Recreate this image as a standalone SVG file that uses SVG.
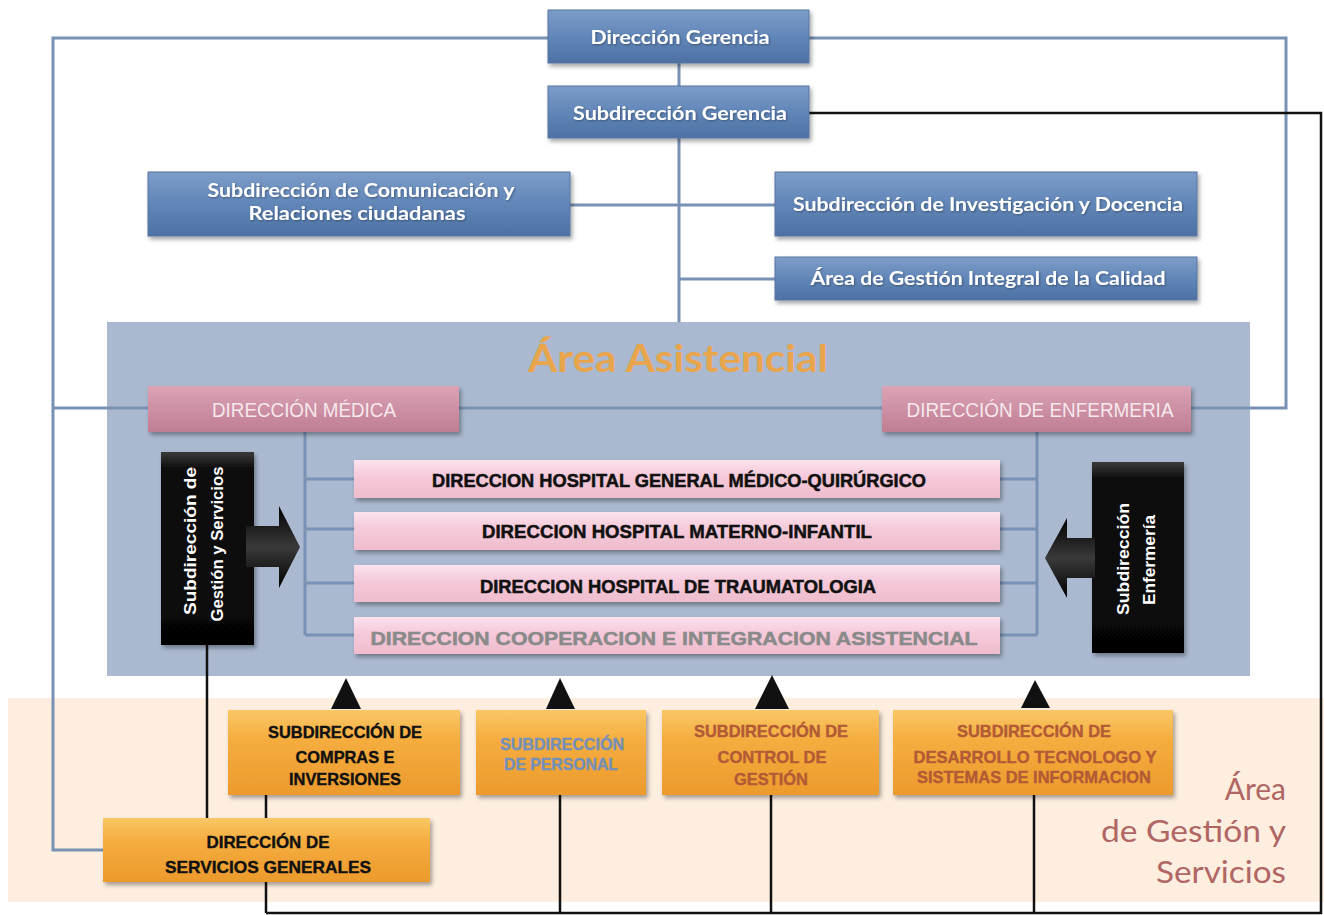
<svg xmlns="http://www.w3.org/2000/svg" width="1324" height="915" viewBox="0 0 1324 915">
<defs>
<linearGradient id="gBlue" x1="0" y1="0" x2="0" y2="1"><stop offset="0" stop-color="#7d9dc9"/><stop offset="0.5" stop-color="#6186b8"/><stop offset="1" stop-color="#4d71a3"/></linearGradient>
<linearGradient id="gMauve" x1="0" y1="0" x2="0" y2="1"><stop offset="0" stop-color="#dba3b5"/><stop offset="1" stop-color="#bf7d93"/></linearGradient>
<linearGradient id="gPink" x1="0" y1="0" x2="0" y2="1"><stop offset="0" stop-color="#fbe2ec"/><stop offset="0.4" stop-color="#f6cbdb"/><stop offset="1" stop-color="#eebccd"/></linearGradient>
<linearGradient id="gBlack" x1="0" y1="0" x2="0" y2="1"><stop offset="0" stop-color="#3a3a3a"/><stop offset="0.08" stop-color="#111"/><stop offset="1" stop-color="#050505"/></linearGradient>
<linearGradient id="gArrow" x1="0" y1="0" x2="0" y2="1"><stop offset="0" stop-color="#000"/><stop offset="0.5" stop-color="#3a3a3a"/><stop offset="1" stop-color="#000"/></linearGradient>
<linearGradient id="gOrange" x1="0" y1="0" x2="0" y2="1"><stop offset="0" stop-color="#f9c766"/><stop offset="0.35" stop-color="#f5ad3f"/><stop offset="1" stop-color="#ec9a2c"/></linearGradient>
<filter id="sh" x="-10%" y="-20%" width="120%" height="150%"><feDropShadow dx="2" dy="3" stdDeviation="2" flood-color="#000" flood-opacity="0.35"/></filter>
<filter id="tsh" x="-5%" y="-30%" width="110%" height="160%"><feDropShadow dx="1" dy="1" stdDeviation="0.8" flood-color="#000" flood-opacity="0.35"/></filter>
</defs>
<style>
.ln{stroke:#7891b4;stroke-width:3;fill:none}
.bk{stroke:#111;stroke-width:2.5;fill:none}
.tri{fill:#111}
.blue{fill:url(#gBlue);stroke:#5674a0;stroke-width:1}
.mauve{fill:url(#gMauve)}
.pink{fill:url(#gPink)}
.blk{fill:url(#gBlack)}
.org{fill:url(#gOrange)}
.tb{font-family:Lato,"Open Sans",sans-serif;font-weight:bold;font-size:18px;fill:#fff;text-anchor:middle}
.tm{font-family:"Liberation Sans Narrow","Liberation Sans",sans-serif;font-size:20px;fill:#f6e8ec;text-anchor:middle}
.th{font-family:"Liberation Sans Narrow","Liberation Sans",sans-serif;font-weight:bold;font-size:18px;fill:#111;stroke:#111;stroke-width:0.5;text-anchor:middle}
.to{font-family:"Liberation Sans Narrow","Liberation Sans",sans-serif;font-weight:bold;font-size:17px;stroke-width:0.4;text-anchor:middle}
.tv{font-family:"Liberation Sans",Arial,sans-serif;font-weight:bold;font-size:16px;fill:#fff;text-anchor:middle}
</style>
<rect width="1324" height="915" fill="#fff"/>
<g id="area-asistencial">
<rect x="107" y="322" width="1143" height="354" fill="#aab9d0"/>
<text x="678" y="372" font-family="Lato,'Open Sans',sans-serif" font-weight="bold" font-size="38" fill="#e9a54c" text-anchor="middle" textLength="300" lengthAdjust="spacingAndGlyphs">Área Asistencial</text>
</g>
<g id="area-gestion">
<rect x="8" y="698" width="1316" height="204" fill="#fdeee0"/>
<g font-family="Lato,'Open Sans',sans-serif" font-size="30" fill="#b06663" text-anchor="end">
<text x="1286" y="800">Área</text>
<text x="1286" y="842" textLength="185" lengthAdjust="spacingAndGlyphs">de Gestión y</text>
<text x="1286" y="883" textLength="130" lengthAdjust="spacingAndGlyphs">Servicios</text>
</g>
</g>
<g id="connectors">
<path class="ln" d="M548,38 H53 V850 H103"/>
<path class="ln" d="M53,408 H148"/>
<path class="ln" d="M809,38 H1286 V408 H1191"/>
<path class="ln" d="M459,408 H882"/>
<path class="ln" d="M679,63 V86"/>
<path class="ln" d="M679,138 V322"/>
<path class="ln" d="M570,205 H775"/>
<path class="ln" d="M679,279 H775"/>
<path class="ln" d="M305,432 V635 M305,479 H354 M305,529 H354 M305,583 H354 M305,635 H354"/>
<path class="ln" d="M1037,432 V635 M1000,479 H1037 M1000,529 H1037 M1000,583 H1037 M1000,635 H1037"/>
<path class="bk" d="M809,113 H1321 V913 H266"/>
<path class="bk" d="M266,913 V882 M266,818 V795"/>
<path class="bk" d="M560,913 V795"/>
<path class="bk" d="M771,913 V795"/>
<path class="bk" d="M1034,913 V795"/>
<path class="bk" d="M207,645 V818"/>
<polygon class="tri" points="331,709 361,709 346,678"/>
<polygon class="tri" points="546,709 575,709 560,678"/>
<polygon class="tri" points="755,709 789,709 772,675"/>
<polygon class="tri" points="1021,708 1050,708 1035,680"/>
</g>
<g id="direccion-gerencia">
<rect class="blue" x="548" y="10" width="261" height="53" filter="url(#sh)"/>
<text class="tb" x="680" y="44" textLength="179" lengthAdjust="spacingAndGlyphs" filter="url(#tsh)">Dirección Gerencia</text>
</g>
<g id="subdireccion-gerencia">
<rect class="blue" x="548" y="86" width="261" height="52" filter="url(#sh)"/>
<text class="tb" x="680" y="120" textLength="214" lengthAdjust="spacingAndGlyphs" filter="url(#tsh)">Subdirección Gerencia</text>
</g>
<g id="subdir-comunicacion">
<rect class="blue" x="148" y="172" width="422" height="64" filter="url(#sh)"/>
<text class="tb" x="361" y="197" textLength="307" lengthAdjust="spacingAndGlyphs" filter="url(#tsh)">Subdirección de Comunicación y</text>
<text class="tb" x="357" y="220" textLength="217" lengthAdjust="spacingAndGlyphs" filter="url(#tsh)">Relaciones ciudadanas</text>
</g>
<g id="subdir-investigacion">
<rect class="blue" x="775" y="172" width="422" height="64" filter="url(#sh)"/>
<text class="tb" x="988" y="211" textLength="390" lengthAdjust="spacingAndGlyphs" filter="url(#tsh)">Subdirección de Investigación y Docencia</text>
</g>
<g id="area-calidad">
<rect class="blue" x="775" y="257" width="422" height="43" filter="url(#sh)"/>
<text class="tb" x="988" y="285" textLength="355" lengthAdjust="spacingAndGlyphs" filter="url(#tsh)">Área de Gestión Integral de la Calidad</text>
</g>
<g id="direccion-medica">
<rect class="mauve" x="148" y="386" width="311" height="46" filter="url(#sh)"/>
<text class="tm" x="304" y="417" textLength="184" lengthAdjust="spacingAndGlyphs">DIRECCIÓN MÉDICA</text>
</g>
<g id="direccion-enfermeria">
<rect class="mauve" x="882" y="386" width="309" height="46" filter="url(#sh)"/>
<text class="tm" x="1040" y="417" textLength="267" lengthAdjust="spacingAndGlyphs">DIRECCIÓN DE ENFERMERIA</text>
</g>
<g id="hospital-general">
<rect class="pink" x="354" y="460" width="646" height="38" filter="url(#sh)"/>
<text class="th" x="679" y="487" textLength="494" lengthAdjust="spacingAndGlyphs">DIRECCION HOSPITAL GENERAL MÉDICO-QUIRÚRGICO</text>
</g>
<g id="hospital-materno">
<rect class="pink" x="354" y="512" width="646" height="38" filter="url(#sh)"/>
<text class="th" x="677" y="538" textLength="390" lengthAdjust="spacingAndGlyphs">DIRECCION  HOSPITAL MATERNO-INFANTIL</text>
</g>
<g id="hospital-trauma">
<rect class="pink" x="354" y="565" width="646" height="37" filter="url(#sh)"/>
<text class="th" x="678" y="593" textLength="396" lengthAdjust="spacingAndGlyphs">DIRECCION HOSPITAL DE TRAUMATOLOGIA</text>
</g>
<g id="cooperacion">
<rect class="pink" x="354" y="617" width="646" height="37" filter="url(#sh)"/>
<text class="th" x="674" y="645" style="fill:#8a8a8a;stroke:#8a8a8a" textLength="607" lengthAdjust="spacingAndGlyphs">DIRECCION COOPERACION  E INTEGRACION ASISTENCIAL</text>
</g>
<g id="subdir-gestion-servicios">
<rect class="blk" x="161" y="452" width="93" height="193" filter="url(#sh)"/>
<text class="tv" transform="translate(196,541) rotate(-90)" textLength="148" lengthAdjust="spacingAndGlyphs">Subdirección  de</text>
<text class="tv" transform="translate(223,544) rotate(-90)" textLength="155" lengthAdjust="spacingAndGlyphs">Gestión y Servicios</text>
<polygon fill="url(#gArrow)" points="246,526 279,526 279,506 300,547 279,588 279,567 246,567"/>
</g>
<g id="subdir-enfermeria">
<rect class="blk" x="1092" y="462" width="92" height="191" filter="url(#sh)"/>
<text class="tv" transform="translate(1129,559) rotate(-90)" textLength="112" lengthAdjust="spacingAndGlyphs">Subdirección</text>
<text class="tv" transform="translate(1155,560) rotate(-90)" textLength="90" lengthAdjust="spacingAndGlyphs">Enfermería</text>
<polygon fill="url(#gArrow)" points="1095,538 1067,538 1067,518 1045,558 1067,598 1067,578 1095,578"/>
</g>
<g id="subdir-compras">
<rect class="org" x="228" y="710" width="232" height="85" filter="url(#sh)"/>
<text class="to" fill="#111" stroke="#111" x="345" y="738" textLength="154" lengthAdjust="spacingAndGlyphs">SUBDIRECCIÓN DE</text>
<text class="to" fill="#111" stroke="#111" x="345" y="763" textLength="99" lengthAdjust="spacingAndGlyphs">COMPRAS E</text>
<text class="to" fill="#111" stroke="#111" x="345" y="785" textLength="112" lengthAdjust="spacingAndGlyphs">INVERSIONES</text>
</g>
<g id="subdir-personal">
<rect class="org" x="476" y="710" width="170" height="85" filter="url(#sh)"/>
<text class="to" fill="#7590b8" stroke="#7590b8" x="562" y="750" textLength="124" lengthAdjust="spacingAndGlyphs">SUBDIRECCIÓN</text>
<text class="to" fill="#7590b8" stroke="#7590b8" x="561" y="770" textLength="114" lengthAdjust="spacingAndGlyphs">DE PERSONAL</text>
</g>
<g id="subdir-control">
<rect class="org" x="662" y="710" width="217" height="85" filter="url(#sh)"/>
<text class="to" fill="#b25a35" stroke="#b25a35" x="771" y="737" textLength="154" lengthAdjust="spacingAndGlyphs">SUBDIRECCIÓN DE</text>
<text class="to" fill="#b25a35" stroke="#b25a35" x="772" y="763" textLength="109" lengthAdjust="spacingAndGlyphs">CONTROL DE</text>
<text class="to" fill="#b25a35" stroke="#b25a35" x="771" y="785" textLength="74" lengthAdjust="spacingAndGlyphs">GESTIÓN</text>
</g>
<g id="subdir-desarrollo">
<rect class="org" x="893" y="710" width="280" height="85" filter="url(#sh)"/>
<text class="to" fill="#b25a35" stroke="#b25a35" x="1034" y="737" textLength="154" lengthAdjust="spacingAndGlyphs">SUBDIRECCIÓN DE</text>
<text class="to" fill="#b25a35" stroke="#b25a35" x="1035" y="763" textLength="243" lengthAdjust="spacingAndGlyphs">DESARROLLO TECNOLOGO Y</text>
<text class="to" fill="#b25a35" stroke="#b25a35" x="1034" y="783" textLength="234" lengthAdjust="spacingAndGlyphs">SISTEMAS DE INFORMACION</text>
</g>
<g id="direccion-servicios-generales">
<rect class="org" x="103" y="818" width="327" height="64" filter="url(#sh)"/>
<text class="to" fill="#111" stroke="#111" x="268" y="848" textLength="123" lengthAdjust="spacingAndGlyphs">DIRECCIÓN DE</text>
<text class="to" fill="#111" stroke="#111" x="268" y="873" textLength="206" lengthAdjust="spacingAndGlyphs">SERVICIOS GENERALES</text>
</g>
</svg>
